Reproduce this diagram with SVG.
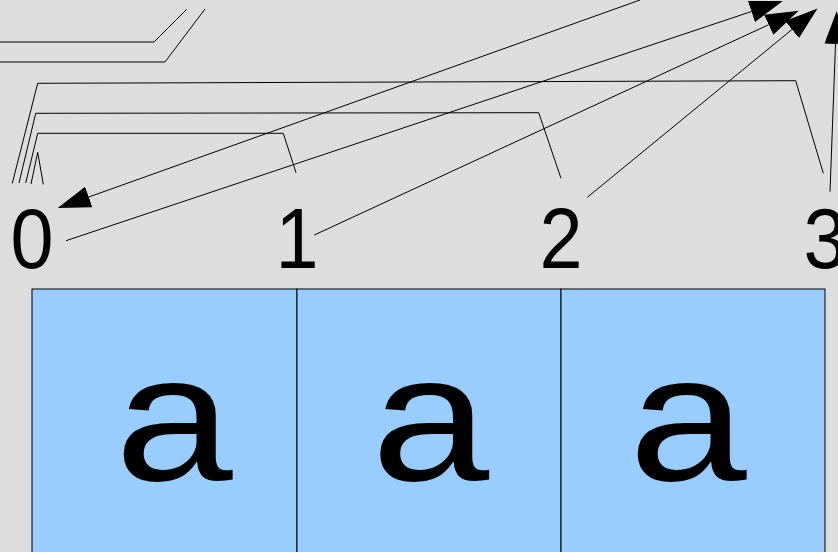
<svg xmlns="http://www.w3.org/2000/svg" width="838" height="552" viewBox="0 0 838 552">
<defs>
<style>
.ln{fill:none;stroke:#000;stroke-width:1}
.box{fill:#99ccff;stroke:#000;stroke-width:1}
.num{font-family:"Liberation Sans",Arial,sans-serif;font-size:86px;fill:#000;text-anchor:middle}
.ch{font-family:"Liberation Mono","DejaVu Sans Mono",monospace;font-size:180px;fill:#000;text-anchor:middle}
</style>
<marker id="ah" markerUnits="userSpaceOnUse" markerWidth="34" markerHeight="24" viewBox="0 0 34 24" refX="0" refY="11" orient="auto">
<path d="M0,0 L33,11 L0,22 z" fill="#000"/>
</marker>
</defs>
<rect width="838" height="552" fill="#dddddd"/>
<g id="cells">
<g id="cell0"><rect class="box" x="32" y="289" width="265" height="280"/><text class="ch" transform="translate(175,480) scale(1.2,1)">a</text></g>
<g id="cell1"><rect class="box" x="297" y="289" width="264" height="280"/><text class="ch" transform="translate(431.5,480) scale(1.2,1)">a</text></g>
<g id="cell2"><rect class="box" x="561" y="289" width="264" height="280"/><text class="ch" transform="translate(689,480) scale(1.2,1)">a</text></g>
</g>
<g id="labels">
<g id="l0"><text class="num" transform="translate(32,268) scale(0.9,1)">0</text></g>
<g id="l1"><text class="num" transform="translate(297,268) scale(0.9,1)">1</text></g>
<g id="l2"><text class="num" transform="translate(561,268) scale(0.9,1)">2</text></g>
<g id="l3"><text class="num" transform="translate(825,268) scale(0.9,1)">3</text></g>
</g>
<g id="connectors">
<polyline class="ln" points="0,42 154,42 187,9"/>
<polyline class="ln" points="0,62 165,62 205,9"/>
<polyline class="ln" points="12.3,183.3 37.7,83.3 795.7,80.7 823.3,173.3"/>
<polyline class="ln" points="19,183 35.7,113.3 538.7,112.7 561,178.3"/>
<polyline class="ln" points="25.7,183 37.7,133.3 283.3,133.3 296,172.7"/>
<polyline class="ln" points="31,184 37.7,152.3 43.3,184.3"/>
<line class="ln" x1="640" y1="0" x2="88.8" y2="197" marker-end="url(#ah)"/>
<line class="ln" x1="66" y1="240.7" x2="751.5" y2="11.5" marker-end="url(#ah)"/>
<line class="ln" x1="314.3" y1="235" x2="768.7" y2="24.7" marker-end="url(#ah)"/>
<line class="ln" x1="587.3" y1="197.3" x2="792" y2="29.5" marker-end="url(#ah)"/>
<line class="ln" x1="830" y1="191.7" x2="835.5" y2="44" marker-end="url(#ah)"/>
</g>
</svg>
